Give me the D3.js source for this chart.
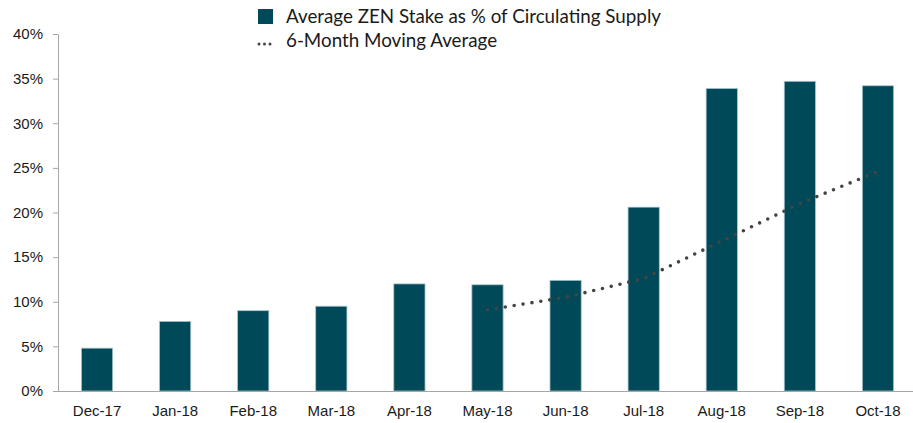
<!DOCTYPE html>
<html>
<head>
<meta charset="utf-8">
<script src="https://cdn.jsdelivr.net/npm/d3@7"></script>
<style>
  body { margin: 0; background: #fff; }
  svg { display: block; font-family: Lato, "Open Sans", sans-serif; }
  .axis text { fill: #1a1a1a; font-size: 15px; }
  .axis path, .axis line { stroke: #a6a6a6; }
</style>
</head>
<body>
<div id="chart"></div>
<script>
const months = ["Dec-17", "Jan-18", "Feb-18", "Mar-18", "Apr-18", "May-18",
  "Jun-18", "Jul-18", "Aug-18", "Sep-18", "Oct-18"];
// stake as % of circulating supply
const stakePct = [4.8, 7.8, 9.0, 9.5, 12.0, 11.9, 12.4, 20.6, 33.9, 34.7, 34.2];
// moving average only starts at May-18
const avgMonths = ["May-18", "Jun-18", "Jul-18", "Aug-18", "Sep-18", "Oct-18"];
const avgPct = [9.1, 10.5, 12.6, 16.8, 21.0, 24.6];
const yTicks = [0, 5, 10, 15, 20, 25, 30, 35, 40];

const width = 913, height = 423;
const margin = { top: 34, right: -4, bottom: 32, left: 58 };

const svg = d3.select("#chart").append("svg")
  .attr("width", width)
  .attr("height", height);

const x = d3.scaleBand()
  .domain(months)
  .range([margin.left, width - margin.right])
  .paddingInner(0.6)
  .paddingOuter(0.3);

const y = d3.scaleLinear()
  .domain([0, 40])
  .range([height - margin.bottom, margin.top]);

//y axis with % labels
svg.append("g")
  .attr("class", "axis")
  .attr("transform", `translate(${margin.left},0)`)
  .call(d3.axisLeft(y).tickValues(yTicks).tickSize(5).tickSizeOuter(0).tickPadding(10)
    .tickFormat(d => d + "%"));

//bars
svg.append("g")
  .selectAll("rect")
  .data(stakePct)
  .join("rect")
  .attr("x", (d, i) => x(months[i]))
  .attr("y", d => y(d))
  .attr("width", x.bandwidth())
  .attr("height", d => y(0) - y(d))
  .attr("fill", "#004958")
  .attr("stroke", "#a9c4cc")
  .attr("stroke-width", 0.8);

//x axis, drawn after bars so the baseline sits on top
svg.append("g")
  .attr("class", "axis")
  .attr("transform", `translate(0,${y(0)})`)
  .call(d3.axisBottom(x).tickSize(0).tickPadding(14))
  .call(g => g.select(".domain").attr("d", `M${margin.left},0.5H${width}`));

//dotted moving average line
const line = d3.line()
  .x((d, i) => x(avgMonths[i]) + x.bandwidth() / 2)
  .y(d => y(d));

svg.append("path")
  .datum(avgPct)
  .attr("d", line)
  .attr("fill", "none")
  .attr("stroke", "#444")
  .attr("stroke-width", 3.6)
  .attr("stroke-linecap", "round")
  .attr("stroke-dasharray", "0 9");

//legend
const legend = svg.append("g").attr("font-size", 18.8).attr("fill", "#1a1a1a");
legend.append("rect")
  .attr("x", 258).attr("y", 9).attr("width", 15).attr("height", 15)
  .attr("fill", "#004958");
legend.append("text")
  .attr("x", 286).attr("y", 23)
  .text("Average ZEN Stake as % of Circulating Supply");
legend.append("path")
  .attr("d", "M259,44H272")
  .attr("stroke", "#444")
  .attr("stroke-width", 3)
  .attr("stroke-linecap", "round")
  .attr("stroke-dasharray", "0 5.5");
legend.append("text")
  .attr("x", 286).attr("y", 47)
  .text("6-Month Moving Average");
</script>
</body>
</html>
